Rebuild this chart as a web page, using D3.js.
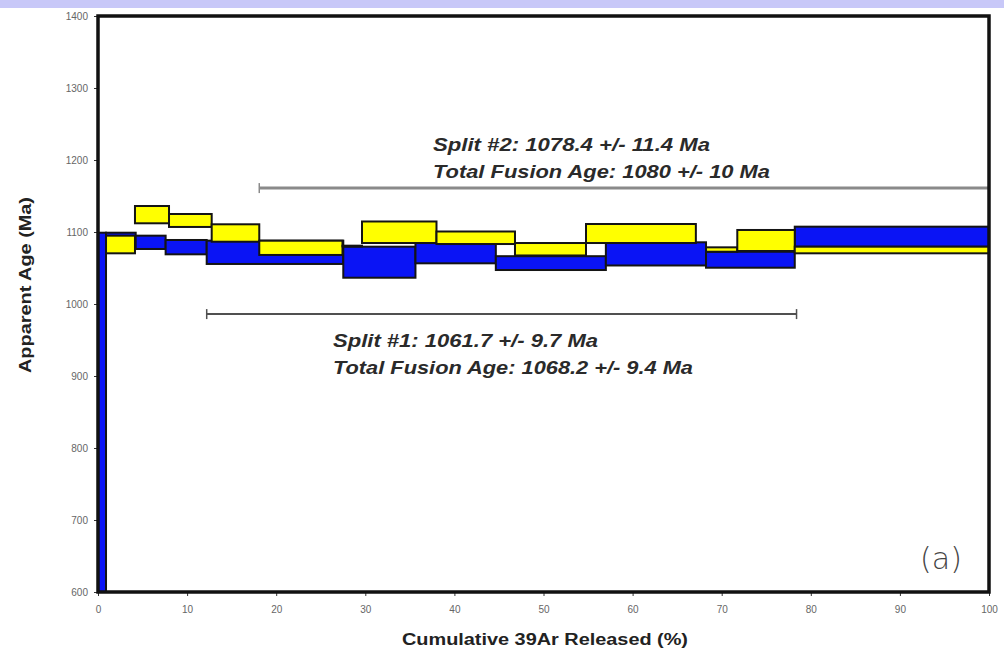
<!DOCTYPE html>
<html>
<head>
<meta charset="utf-8">
<script src="https://cdn.jsdelivr.net/npm/d3@7"></script>
<style>
  body { margin: 0; background: #fff; }
  svg { display: block; }
  .tick text { font-family: 'Liberation Sans', Arial, sans-serif; font-size: 10px; fill: #666; }
  .tick line { stroke: #333; }
  .note { font-family: 'Liberation Sans', Arial, sans-serif; font-weight: bold; font-style: italic; font-size: 19px; fill: #2a2a2a; }
  .label { font-family: 'Liberation Sans', Arial, sans-serif; font-weight: bold; font-size: 16px; fill: #222; }
</style>
</head>
<body>
<svg id="chart" width="1004" height="654"></svg>
<script>

// split #1 (blue) steps: cumulative % start/end, upper and lower age (Ma)
var split1From = [0, 0.9, 4.23, 7.59, 12.2, 27.53, 35.63, 44.65, 57.0, 68.24, 78.2];
var split1To   = [0.9, 4.23, 7.59, 12.2, 27.53, 35.63, 44.65, 57.0, 68.24, 78.2, 100];
var split1Hi   = [1099, 1099, 1094.9, 1088.9, 1088, 1079.6, 1085.7, 1066.4, 1085.7, 1072.6, 1107.4];
var split1Lo   = [450, 1085, 1076.4, 1069, 1055.6, 1036.5, 1056.5, 1047.2, 1053.5, 1050.4, 1079.6];

// split #2 (yellow) steps
var split2From = [0.9, 4.15, 7.97, 12.76, 18.1, 27.44, 29.63, 37.99, 46.8, 54.77, 68.24, 71.75, 78.2];
var split2To   = [4.15, 7.97, 12.76, 18.1, 27.44, 29.63, 37.99, 46.8, 54.77, 67.1, 71.75, 78.2, 100];
var split2Hi   = [1094.9, 1136.1, 1125, 1110.7, 1087.9, 1081, 1114.6, 1100.7, 1084.7, 1111.1, 1078.7, 1102.8, 1079.6];
var split2Lo   = [1070.4, 1112.1, 1107, 1086.5, 1068.1, 1080, 1084.7, 1083.3, 1067.4, 1084.7, 1072.6, 1073.6, 1070.4];

// plateau bars: [from %, to %, age]
var plateau1 = [12.2, 78.4, 986];
var plateau2 = [18.1, 100, 1161];

var notes1 = ['Split #1: 1061.7 +/- 9.7 Ma', 'Total Fusion Age: 1068.2 +/- 9.4 Ma'];
var notes2 = ['Split #2: 1078.4 +/- 11.4 Ma', 'Total Fusion Age: 1080 +/- 10 Ma'];

var xTicks = [0, 10, 20, 30, 40, 50, 60, 70, 80, 90, 100];
var yTicks = [600, 700, 800, 900, 1000, 1100, 1200, 1300, 1400];

var svg = d3.select('#chart'),
    x = d3.scaleLinear().domain([0, 100]).range([98, 989]),
    y = d3.scaleLinear().domain([600, 1400]).range([592, 16])
    ;

// lavender band across the top
svg.append('rect')
    .attr('x', 0).attr('y', 0)
    .attr('width', 1004).attr('height', 8)
    .attr('fill', '#c8c8f8')
  ;

svg.append('clipPath')
    .attr('id', 'plot-clip')
  .append('rect')
    .attr('x', x(0)).attr('y', y(1400))
    .attr('width', x(100) - x(0)).attr('height', y(600) - y(1400))
  ;

var plot = svg.append('g').attr('clip-path', 'url(#plot-clip)');

function drawSteps(from, to, hi, lo, fill) {
  plot.append('g')
    .selectAll('rect')
    .data(from.map(function(d, i) { return { a: d, b: to[i], hi: hi[i], lo: lo[i] }; }))
    .enter().append('rect')
      .attr('x', function(d) { return x(d.a); })
      .attr('y', function(d) { return y(d.hi); })
      .attr('width', function(d) { return x(d.b) - x(d.a); })
      .attr('height', function(d) { return y(d.lo) - y(d.hi); })
      .attr('fill', fill)
      .attr('stroke', '#141414')
      .attr('stroke-width', 2)
    ;
}

drawSteps(split1From, split1To, split1Hi, split1Lo, '#0a14f5');
drawSteps(split2From, split2To, split2Hi, split2Lo, '#ffff00');

// plateau bars with end caps
function drawPlateau(p, colour, width, caps) {
  var g = svg.append('g').attr('stroke', colour).attr('stroke-width', width);
  g.append('line')
      .attr('x1', x(p[0])).attr('x2', x(p[1]))
      .attr('y1', y(p[2])).attr('y2', y(p[2]))
  ;
  caps.forEach(function(c) {
    g.append('line')
        .attr('x1', x(c)).attr('x2', x(c))
        .attr('y1', y(p[2]) - 5).attr('y2', y(p[2]) + 5)
        .attr('stroke-width', 1.5)
    ;
  });
}

drawPlateau(plateau2, '#8a8a8a', 3, [plateau2[0]]);
drawPlateau(plateau1, '#505050', 2, [plateau1[0], plateau1[1]]);

// annotation text
function drawNotes(lines, px, base, widths) {
  lines.forEach(function(t, i) {
    svg.append('text')
        .attr('class', 'note')
        .attr('x', px)
        .attr('y', base + i * 27)
        .attr('textLength', widths[i])
        .attr('lengthAdjust', 'spacingAndGlyphs')
        .text(t)
    ;
  });
}

drawNotes(notes2, 433, 151, [277, 337]);
drawNotes(notes1, 333, 347, [265, 360]);

// axes
svg.append('g')
    .attr('transform', 'translate(' + x(0) + ',0)')
    .call(d3.axisLeft(y).tickValues(yTicks).tickFormat(d3.format('d')).tickSize(4).tickPadding(6))
    .call(function(g) { g.select('.domain').remove(); })
  ;

svg.append('g')
    .attr('transform', 'translate(0,' + y(600) + ')')
    .call(d3.axisBottom(x).tickValues(xTicks).tickFormat(d3.format('d')).tickSize(4).tickPadding(10))
    .call(function(g) { g.select('.domain').remove(); })
  ;

// frame
svg.append('rect')
    .attr('x', x(0)).attr('y', y(1400))
    .attr('width', x(100) - x(0)).attr('height', y(600) - y(1400))
    .attr('fill', 'none')
    .attr('stroke', '#111')
    .attr('stroke-width', 3.5)
  ;

svg.append('text')
    .attr('class', 'label')
    .attr('x', 545).attr('y', 645)
    .attr('text-anchor', 'middle')
    .attr('textLength', 286)
    .attr('lengthAdjust', 'spacingAndGlyphs')
    .text('Cumulative 39Ar Released (%)')
  ;

svg.append('text')
    .attr('class', 'label')
    .attr('transform', 'translate(31,285) rotate(-90)')
    .attr('text-anchor', 'middle')
    .attr('textLength', 176)
    .attr('lengthAdjust', 'spacingAndGlyphs')
    .text('Apparent Age (Ma)')
  ;

svg.append('text')
    .attr('x', 941).attr('y', 569)
    .attr('text-anchor', 'middle')
    .attr('font-family', "'DejaVu Sans', sans-serif")
    .attr('font-size', 30)
    .attr('font-weight', 300)
    .attr('fill', '#444')
    .text('(a)')
  ;

</script>
</body>
</html>
